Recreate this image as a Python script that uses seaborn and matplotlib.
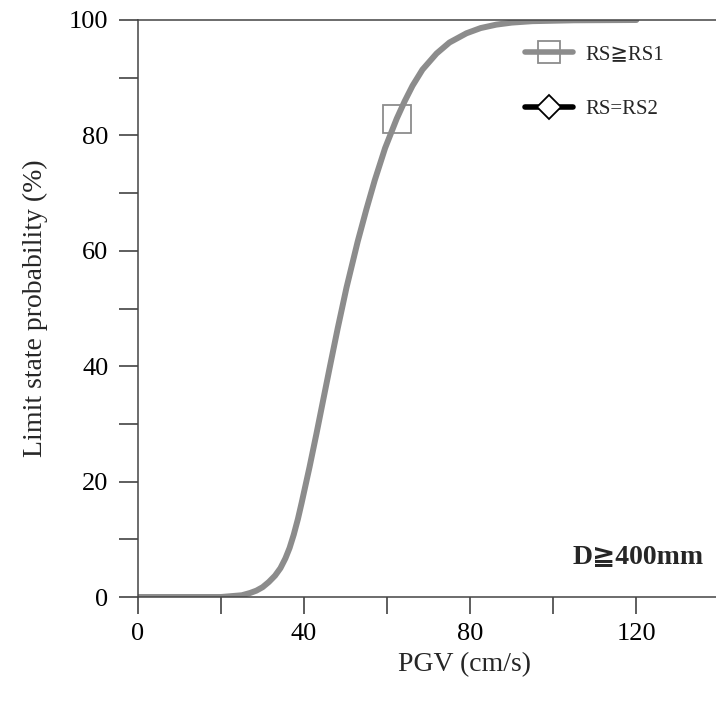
import matplotlib
matplotlib.use("Agg")
import matplotlib.pyplot as plt
from matplotlib.lines import Line2D
import seaborn as sns
import pandas as pd

# ---- data ----
pgv = [0, 10, 20, 25, 27, 28.5, 30, 31.5, 33, 34.3, 35.5, 36.5, 37.5, 38.5, 39.4,
       41.3, 43, 44.5, 46.2, 48.1, 50.2, 52.9, 55, 57, 59.5, 62.3, 64.2, 66.1, 68.5,
       71.9, 75, 79.1, 82.5, 86.3, 90, 95, 105, 120]
prob_rs1 = [0, 0, 0, 0.3, 0.7, 1.1, 1.7, 2.6, 3.7, 5.0, 6.7, 8.5, 10.8, 13.5, 16.3,
            22.5, 28.4, 33.8, 39.9, 46.6, 53.6, 61.6, 67.2, 72.2, 77.8, 82.9, 85.9,
            88.6, 91.4, 94.2, 96.1, 97.7, 98.6, 99.2, 99.55, 99.8, 99.95, 100]
rs1_marker_index = [25]
series_labels = ["RS\u2267RS1", "RS=RS2"]
x_major = [0, 20, 40, 60, 80, 100, 120, 140]
x_labels = ["0", "", "40", "", "80", "", "120", ""]
y_major = [0, 10, 20, 30, 40, 50, 60, 70, 80, 90, 100]
y_labels = ["0", "", "20", "", "40", "", "60", "", "80", "", "100"]
annotation = "D\u2267400mm"

df = pd.DataFrame({"PGV": pgv, "prob": prob_rs1})

sns.set_theme(style="ticks")
fams = ["Liberation Serif", "DejaVu Serif", "DejaVu Sans"]
plt.rcParams["font.family"] = fams
plt.rcParams["axes.unicode_minus"] = False

W, H = 716, 701
fig = plt.figure(figsize=(W / 100, H / 100), dpi=100)
ax = fig.add_axes([138 / W, 1 - 597 / H, (790 - 138) / W, (597 - 20) / H])

gray = "#8c8c8c"
sns.lineplot(data=df, x="PGV", y="prob", ax=ax, color=gray, linewidth=4.3,
             estimator=None, sort=False)
line = ax.lines[0]
line.set_marker("s")
line.set_markevery(rs1_marker_index)
line.set_markersize(20)
line.set_markerfacecolor("none")
line.set_markeredgecolor(gray)
line.set_markeredgewidth(1.3)
line.set_solid_capstyle("round")
line.set_solid_joinstyle("round")

ax.set_xlim(0, 157)
ax.set_ylim(0, 100)
ax.set_xticks(x_major)
ax.set_xticklabels(x_labels)
ax.set_yticks(y_major)
ax.set_yticklabels(y_labels)
ax.tick_params(axis="both", direction="out", width=1.1,
               color="#333333", labelsize=19, labelcolor="black")
ax.tick_params(axis="x", length=12.5, pad=6.5)
ax.tick_params(axis="y", length=13.7, pad=7.5)

for side in ["left", "bottom", "top"]:
    ax.spines[side].set_color("#444444")
    ax.spines[side].set_linewidth(1.1)
ax.spines["right"].set_visible(False)

ax.set_xlabel("PGV (cm/s)", fontsize=20, labelpad=5)
ax.set_ylabel("Limit state probability (%)", fontsize=20, labelpad=15)

handles = [
    Line2D([], [], color=gray, lw=4, marker="s", markersize=16,
           markerfacecolor="none", markeredgecolor=gray, markeredgewidth=1.3),
    Line2D([], [], color="black", lw=4, marker="D", markersize=12,
           markerfacecolor="white", markeredgecolor="black", markeredgewidth=1.3),
]
ax.legend(handles, series_labels, loc="upper left", bbox_to_anchor=(0.594, 0.957),
          frameon=False, fontsize=15, handlelength=2.3, handletextpad=0.6,
          labelspacing=1.7, borderpad=0, borderaxespad=0)

ax.text(136.3, 7.1, annotation, ha="right", va="center", fontsize=20,
        fontweight="bold", family=fams)

fig.savefig("out.png", dpi=100)
